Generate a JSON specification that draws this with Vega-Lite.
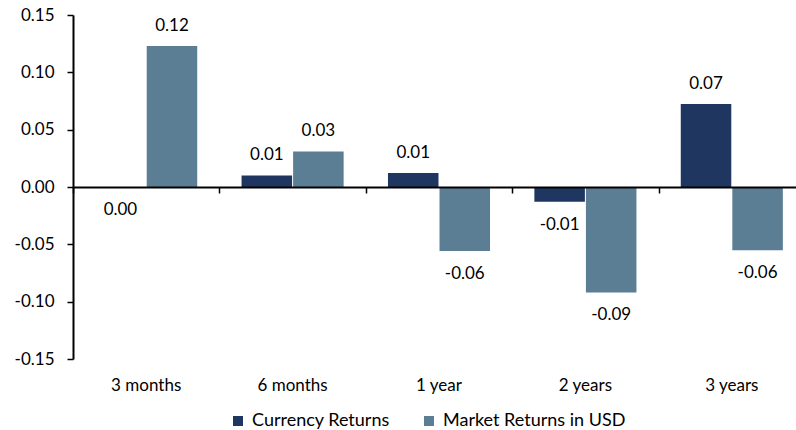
{
  "$schema": "https://vega.github.io/schema/vega-lite/v6.json",
  "width": 723,
  "height": 344,
  "autosize": {"type": "none"},
  "padding": {"left": 73, "top": 15, "right": 0, "bottom": 71},
  "background": "white",
  "config": {
    "view": {"stroke": null},
    "font": "Lato",
    "locale": {"number": {"decimal": ".", "thousands": ",", "grouping": [3], "currency": ["$", ""], "minus": "-"}}
  },
  "data": {
    "values": [
      {"period": "3 months", "series": "Currency Returns", "value": 0},
      {"period": "3 months", "series": "Market Returns in USD", "value": 0.123},
      {"period": "6 months", "series": "Currency Returns", "value": 0.0101},
      {"period": "6 months", "series": "Market Returns in USD", "value": 0.031},
      {"period": "1 year", "series": "Currency Returns", "value": 0.0122},
      {"period": "1 year", "series": "Market Returns in USD", "value": -0.0558},
      {"period": "2 years", "series": "Currency Returns", "value": -0.0128},
      {"period": "2 years", "series": "Market Returns in USD", "value": -0.0919},
      {"period": "3 years", "series": "Currency Returns", "value": 0.0724},
      {"period": "3 years", "series": "Market Returns in USD", "value": -0.0552}
    ]
  },
  "encoding": {
    "x": {
      "field": "period", "type": "nominal",
      "sort": ["3 months", "6 months", "1 year", "2 years", "3 years"],
      "scale": {"paddingInner": 0, "paddingOuter": 0, "range": [0, 732]}
    },
    "xOffset": {
      "field": "series", "type": "nominal", "sort": ["Currency Returns", "Market Returns in USD"],
      "scale": {"paddingInner": 0.02, "paddingOuter": 0.43}
    },
    "y": {
      "field": "value", "type": "quantitative",
      "scale": {"domain": [-0.15, 0.15], "nice": false, "zero": false},
      "axis": {
        "title": null, "values": [-0.15, -0.1, -0.05, 0, 0.05, 0.1, 0.15], "format": ".2f",
        "grid": false, "domainColor": "black", "domainWidth": 2, "tickColor": "black", "tickWidth": 1.5,
        "tickSize": 6, "labelPadding": 13, "labelFont": "Lato", "labelFontSize": 17, "labelColor": "black"
      }
    }
  },
  "layer": [
    {
      "mark": {"type": "bar"},
      "encoding": {
        "x": {
          "field": "period", "type": "nominal",
          "sort": ["3 months", "6 months", "1 year", "2 years", "3 years"],
          "axis": {"title": null, "orient": "bottom", "domain": false, "ticks": false, "labelAngle": 0,
                   "labelPadding": 18, "labelFont": "Lato", "labelFontSize": 17, "labelColor": "black"}
        },
        "color": {
          "field": "series", "type": "nominal",
          "sort": ["Currency Returns", "Market Returns in USD"],
          "scale": {"domain": ["Currency Returns", "Market Returns in USD"], "range": ["#1f3760", "#5b7e94"]},
          "legend": {
            "title": null, "orient": "none", "legendX": 156, "legendY": 397, "direction": "horizontal",
            "symbolType": "square", "symbolSize": 100, "symbolStrokeWidth": 0, "labelFont": "Lato",
            "labelFontSize": 18, "labelColor": "black", "labelOffset": 5, "columnPadding": 30, "labelLimit": 400
          }
        }
      }
    },
    {
      "transform": [{"filter": "datum.value > 0"}],
      "mark": {"type": "text", "baseline": "middle", "dy": -20, "fontSize": 17, "font": "Lato", "color": "black"},
      "encoding": {
        "x": {
          "field": "period", "type": "nominal",
          "sort": ["3 months", "6 months", "1 year", "2 years", "3 years"],
          "axis": {"title": null, "orient": "bottom", "offset": -172, "labels": false, "domain": true,
                   "domainColor": "black", "domainWidth": 2, "ticks": true, "tickBand": "extent",
                   "tickColor": "black", "tickWidth": 1.5, "tickSize": 6, "zindex": 1}
        },
        "text": {"field": "value", "type": "quantitative", "format": ".2f"}
      }
    },
    {
      "transform": [{"filter": "datum.value <= 0"}],
      "mark": {"type": "text", "baseline": "middle", "dy": 23, "fontSize": 17, "font": "Lato", "color": "black"},
      "encoding": {
        "x": {
          "field": "period", "type": "nominal",
          "sort": ["3 months", "6 months", "1 year", "2 years", "3 years"],
          "axis": null
        },
        "text": {"field": "value", "type": "quantitative", "format": ".2f"}
      }
    }
  ],
  "resolve": {"axis": {"x": "independent"}}
}
